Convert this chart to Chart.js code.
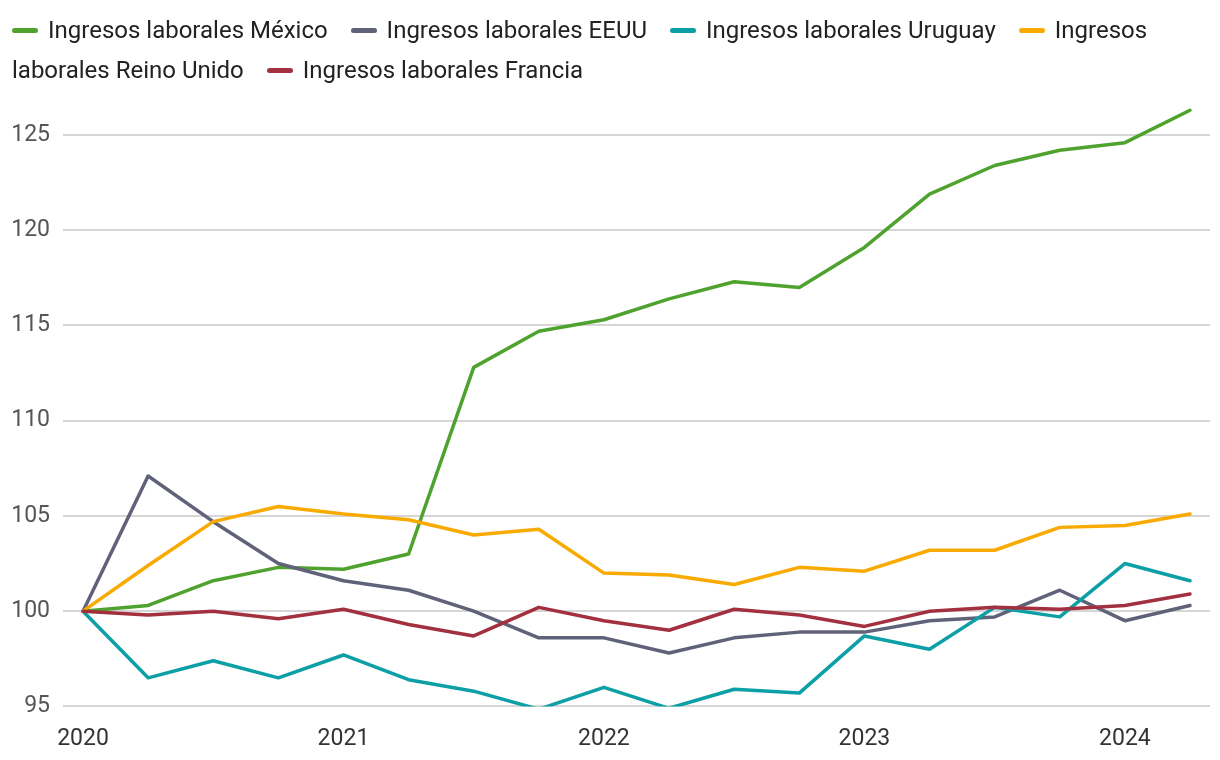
<!DOCTYPE html>
<html lang="es">
<head>
<meta charset="utf-8">
<title>Ingresos laborales</title>
<script src="https://cdn.jsdelivr.net/npm/chart.js@4.4.1/dist/chart.umd.min.js"></script>
<style>
  html, body { margin: 0; padding: 0; background: #fff; }
  #caja { position: relative; width: 1220px; height: 760px; }
  #leyenda {
    position: absolute; left: 12px; top: 10px; width: 1200px;
    font-family: Roboto, "Noto Sans", sans-serif; font-size: 24px;
    line-height: 40px; color: #222;
  }
  #leyenda .marca {
    display: inline-block; width: 26px; height: 5px; border-radius: 3px;
    vertical-align: middle; margin-right: 10px; position: relative; top: -1px;
  }
  #leyenda .item { margin-right: 17px; }
</style>
</head>
<body>
<div id="caja">
  <canvas id="grafico"></canvas>
  <div id="leyenda"></div>
</div>
<script>
// trimestres 2020T1 .. 2024T2
var trimestres = ['2020T1','2020T2','2020T3','2020T4','2021T1','2021T2','2021T3','2021T4',
  '2022T1','2022T2','2022T3','2022T4','2023T1','2023T2','2023T3','2023T4','2024T1','2024T2'];
var anios = [2020, 2021, 2022, 2023, 2024];
var ticksY = [95, 100, 105, 110, 115, 120, 125];

var mexico = [100, 100.3, 101.6, 102.3, 102.2, 103.0, 112.8, 114.7, 115.3, 116.4, 117.3, 117.0, 119.1, 121.9, 123.4, 124.2, 124.6, 126.3];
var eeuu = [100, 107.1, 104.7, 102.5, 101.6, 101.1, 100.0, 98.6, 98.6, 97.8, 98.6, 98.9, 98.9, 99.5, 99.7, 101.1, 99.5, 100.3];
var uruguay = [100, 96.5, 97.4, 96.5, 97.7, 96.4, 95.8, 94.85, 96.0, 94.9, 95.9, 95.7, 98.7, 98.0, 100.2, 99.7, 102.5, 101.6];
var reinoUnido = [100, 102.4, 104.7, 105.5, 105.1, 104.8, 104.0, 104.3, 102.0, 101.9, 101.4, 102.3, 102.1, 103.2, 103.2, 104.4, 104.5, 105.1];
var francia = [100, 99.8, 100.0, 99.6, 100.1, 99.3, 98.7, 100.2, 99.5, 99.0, 100.1, 99.8, 99.2, 100.0, 100.2, 100.1, 100.3, 100.9];

var nombres = ['Ingresos laborales México', 'Ingresos laborales EEUU', 'Ingresos laborales Uruguay',
  'Ingresos laborales Reino Unido', 'Ingresos laborales Francia'];
var colores = ['#4fa22e', '#606279', '#0c9fa5', '#f9aa00', '#a2303f'];
var series = [mexico, eeuu, uruguay, reinoUnido, francia];

// posicion numerica de cada trimestre
function xDe(t) {
  return parseInt(t.slice(0, 4)) + (parseInt(t.slice(5)) - 1) / 4;
}

var datasets = series.map(function (s, i) {
  return {
    label: nombres[i],
    data: s.map(function (v, k) { return { x: xDe(trimestres[k]), y: v }; }),
    borderColor: colores[i],
    backgroundColor: colores[i],
    borderWidth: 3.5,
    pointRadius: 0,
    tension: 0,
    borderCapStyle: 'round',
    borderJoinStyle: 'round',
    order: series.length - i
  };
});

function sinPadding(sc) {
  sc.paddingLeft = 0; sc.paddingRight = 0; sc.paddingTop = 0; sc.paddingBottom = 0;
}

var chart = new Chart(document.getElementById('grafico'), {
  type: 'line',
  data: { datasets: datasets },
  options: {
    responsive: true,
    maintainAspectRatio: false,
    animation: false,
    layout: { padding: { top: 100, left: 12, right: 10, bottom: -12 } },
    plugins: { legend: { display: false }, tooltip: { enabled: false } },
    scales: {
      x: {
        type: 'linear',
        min: 2019.9232,
        max: 2024.3268,
        afterBuildTicks: function (sc) { sc.ticks = anios.map(function (a) { return { value: a }; }); },
        afterFit: sinPadding,
        grid: { display: false, drawTicks: false },
        border: { display: false },
        ticks: {
          autoSkip: false, maxRotation: 0, padding: 19,
          color: '#333', font: { family: 'Roboto', size: 23 },
          callback: function (v) { return String(v); }
        }
      },
      y: {
        min: 95,
        max: 126.84,
        afterBuildTicks: function (sc) { sc.ticks = ticksY.map(function (v) { return { value: v }; }); },
        afterFit: function (sc) { sinPadding(sc); sc.width = 51; },
        grid: { color: '#d6d6d6', lineWidth: 2, drawTicks: false },
        border: { display: false },
        ticks: {
          padding: 13,
          color: '#555', font: { family: 'Roboto', size: 23 },
          callback: function (v) { return String(v); }
        }
      }
    }
  }
});

// leyenda en html para que el texto se parta como en el original
var ley = document.getElementById('leyenda');
chart.data.datasets.forEach(function (d) {
  var item = document.createElement('span');
  item.className = 'item';
  var marca = document.createElement('span');
  marca.className = 'marca';
  marca.style.background = d.borderColor;
  item.appendChild(marca);
  item.appendChild(document.createTextNode(d.label));
  ley.appendChild(item);
  ley.appendChild(document.createTextNode(' '));
});
</script>
</body>
</html>
